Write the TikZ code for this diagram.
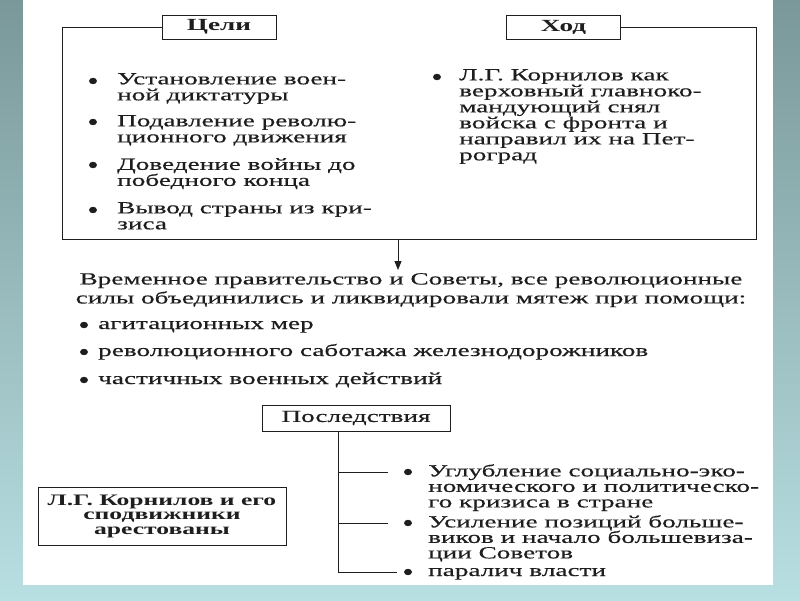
\documentclass[tikz,border=0pt]{standalone}
\usepackage{fontspec}
\setmainfont{Liberation Serif}[FakeStretch=1.6, UprightFeatures={FakeBold=0.4}]
\usetikzlibrary{arrows.meta}
\definecolor{slidetop}{HTML}{7A9899}
\definecolor{slidebot}{HTML}{B8DFE2}
\definecolor{ink}{HTML}{1E1E1E}
\tikzset{
  head/.style={draw=ink, line width=0.9pt, minimum width=114pt, minimum height=24pt,
    inner sep=0pt, text=ink, font=\bfseries\fontsize{17}{16}\selectfont},
  item/.style={anchor=north west, align=left, inner sep=0pt, text=ink,
    font=\fontsize{17}{16}\selectfont},
  frameline/.style={ink, line width=0.9pt},
}
\begin{document}
\begin{tikzpicture}[x=1pt,y=-1pt]
\useasboundingbox (0,0) rectangle (800,600);
\shade[top color=slidetop, bottom color=slidebot] (0,0) rectangle (800,600);
\fill[white] (23,0) rectangle (773,585);
% goals and course
\node[head] (goals) at (219,27) {Цели};
\node[head] (course) at (563.5,27) {Ход};
\coordinate (fl) at (62,239);
\coordinate (fr) at (756,239);
\coordinate (fork) at (398,239);
\draw[frameline] (goals.west) -| (fl) -- (fr) |- (course.east);
\foreach \y in {81,122,165,210}
  \fill[ink] (93,\y) ellipse (4 and 3.2);
\node[item] (aim1) at (117,73) {Установление воен-\\ной диктатуры};
\node[item] (aim2) at (117,115) {Подавление револю-\\ционного движения};
\node[item] (aim3) at (117,158) {Доведение войны до\\победного конца};
\node[item] (aim4) at (117,202) {Вывод страны из кри-\\зиса};
\fill[ink] (437,77) ellipse (4 and 3.2);
\node[item] (march) at (459,69) {Л.Г. Корнилов как\\верховный главноко-\\мандующий снял\\войска с фронта и\\направил их на Пет-\\роград};
% suppression
\node[anchor=north, align=center, inner sep=0pt, text=ink, font=\fontsize{17}{19}\selectfont]
  (unite) at (411,273) {Временное правительство и Советы, все революционные\\силы объединились и ликвидировали мятеж при помощи:};
\draw[frameline, -{Triangle[length=9pt,width=7pt]}, shorten >=3pt] (fork) -- (fork |- unite.north);
\foreach \y in {325,352,380}
  \fill[ink] (84,\y) ellipse (4 and 3.2);
\node[item, anchor=base west] (means1) at (98,329) {агитационных мер};
\node[item, anchor=base west] (means2) at (98,356) {революционного саботажа железнодорожников};
\node[item, anchor=base west] (means3) at (98,384) {частичных военных действий};
% results
\node[head, minimum width=188pt, minimum height=26pt, font=\fontsize{17}{16}\selectfont]
  (result) at (356,418) {Последствия};
\coordinate (stem) at (338,431);
\coordinate (b1) at (388,472);
\coordinate (b2) at (388,523);
\coordinate (b3) at (397,572);
\draw[frameline] (stem) |- (b3);
\draw[frameline] (stem |- b1) -- (b1);
\draw[frameline] (stem |- b2) -- (b2);
\foreach \y in {472,523,572}
  \fill[ink] (408,\y) ellipse (4 and 3.2);
\node[item, font=\fontsize{17}{15.5}\selectfont] (eff1) at (428,464) {Углубление социально-эко-\\номического и политическо-\\го кризиса в стране};
\node[item, font=\fontsize{17}{15.5}\selectfont] (eff2) at (428,515) {Усиление позиций больше-\\виков и начало большевиза-\\ции Советов};
\node[item, anchor=base west] (eff3) at (428,576) {паралич власти};
\node[draw=ink, line width=0.9pt, align=center, inner sep=0pt, text=ink,
  minimum width=248pt, minimum height=58pt, font=\bfseries\fontsize{16}{14.5}\selectfont]
  (arrest) at (162,516) {Л.Г. Корнилов и его\\сподвижники\\арестованы};
\end{tikzpicture}
\end{document}
